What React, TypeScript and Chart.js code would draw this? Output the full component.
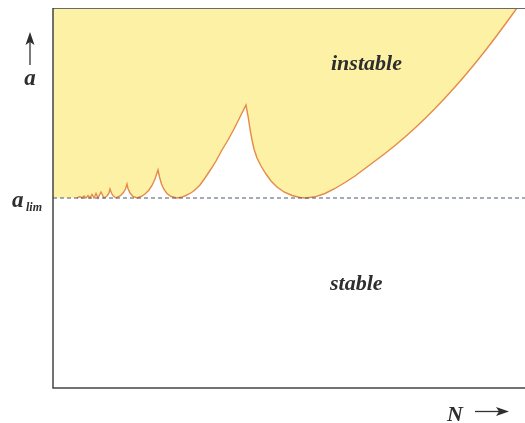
import React, { useEffect, useRef } from "react";
import { Chart, registerables } from "chart.js";

Chart.register(...registerables);

// Stability-lobe boundary (arbitrary units): N along x, depth of cut a along y
const N_VALUES = [
  0, 24, 27, 29, 31, 33, 35, 37, 39, 41, 43, 45, 48, 51, 54, 56, 57, 58.5, 60, 63, 67, 70, 72.5,
  74, 75, 77, 80, 84, 88, 92, 96, 99, 102, 105, 106.5, 108.5, 111, 114, 118, 124, 128, 132, 136,
  140, 144, 147, 152, 158, 163, 169, 175, 181, 187, 193, 195, 197, 199, 201, 204, 208, 213, 218,
  224, 231, 239, 247, 253, 262, 272, 282, 292, 302, 312, 322, 332, 342, 352, 362, 372, 382, 392,
  402, 412, 422, 432, 442, 452, 464,
];
const A_VALUES = [
  190, 190, 191.5, 190, 192, 190, 192.5, 190, 193.5, 190, 194.5, 190, 196, 190, 192, 195, 199, 195,
  192.5, 190, 192, 195, 199, 204, 199.5, 195, 191.5, 190, 191.5, 194, 198, 202.5, 209, 218, 211,
  204, 198.5, 194.5, 191.5, 190, 190.7, 192, 194, 196.5, 200, 203, 210, 219, 227, 238, 248, 259,
  271, 283, 272, 259, 248, 239, 230, 222, 214, 207, 201, 196, 192.5, 190.5, 190, 191.2, 194.5, 199.5,
  205.5, 212, 219.5, 227, 234.5, 242.5, 251, 260, 269.5, 279.5, 290, 301, 312.5, 324.5, 337, 350,
  363.5, 380,
];
const A_LIM = 190;
const N_MAX = 472;
const A_MAX = 380;

const LABEL_UNSTABLE = "instable";
const LABEL_STABLE = "stable";
const LABEL_A = "a";
const LABEL_ALIM_SUB = "lim";
const LABEL_N = "N";

const FILL = "#FDF1A6";
const CURVE = "#E58A45";
const TEXT = "#2e2e2e";
const SERIF = '"Liberation Serif", "Times New Roman", serif';

const decorPlugin = {
  id: "decor",
  afterDatasetsDraw(chart: any) {
    const { ctx, chartArea } = chart;
    const { left, top, right, bottom } = chartArea;
    ctx.save();
    // frame: top, left, bottom
    ctx.strokeStyle = "#6a6a6a";
    ctx.lineWidth = 1;
    ctx.beginPath();
    ctx.moveTo(left, top + 0.5);
    ctx.lineTo(right, top + 0.5);
    ctx.stroke();
    ctx.strokeStyle = "#444";
    ctx.lineWidth = 1.5;
    ctx.beginPath();
    ctx.moveTo(left, top);
    ctx.lineTo(left, bottom);
    ctx.lineTo(right, bottom);
    ctx.stroke();

    const ys = chart.scales.y;
    ctx.fillStyle = TEXT;
    ctx.textBaseline = "alphabetic";

    // region labels
    ctx.font = `italic bold 22px ${SERIF}`;
    ctx.textAlign = "left";
    ctx.fillText(LABEL_UNSTABLE, left + 278, top + 62);
    ctx.fillText(LABEL_STABLE, left + 277, top + 282);

    // a with up arrow
    ctx.textAlign = "center";
    ctx.font = `italic bold 23px ${SERIF}`;
    ctx.fillText(LABEL_A, 30, 85);
    ctx.strokeStyle = "#333";
    ctx.lineWidth = 1.3;
    ctx.beginPath();
    ctx.moveTo(30, 42);
    ctx.lineTo(30, 65);
    ctx.stroke();
    ctx.beginPath();
    ctx.moveTo(30, 32);
    ctx.lineTo(25.5, 45);
    ctx.lineTo(30, 42);
    ctx.lineTo(34.5, 45);
    ctx.closePath();
    ctx.fill();

    // a_lim
    const yLim = ys.getPixelForValue(A_LIM);
    ctx.textAlign = "left";
    ctx.font = `italic bold 23px ${SERIF}`;
    ctx.fillText(LABEL_A, 12, yLim + 9);
    ctx.font = `italic bold 12px ${SERIF}`;
    ctx.fillText(LABEL_ALIM_SUB, 26, yLim + 13);

    // N with right arrow
    ctx.font = `italic bold 22px ${SERIF}`;
    ctx.fillText(LABEL_N, 447, 421);
    ctx.beginPath();
    ctx.moveTo(475, 411.5);
    ctx.lineTo(500, 411.5);
    ctx.stroke();
    ctx.beginPath();
    ctx.moveTo(509, 411.5);
    ctx.lineTo(496, 407);
    ctx.lineTo(499, 411.5);
    ctx.lineTo(496, 416);
    ctx.closePath();
    ctx.fill();
    ctx.restore();
  },
};

export default function App() {
  const ref = useRef<HTMLCanvasElement | null>(null);
  useEffect(() => {
    if (!ref.current) return;
    const points = N_VALUES.map((n, i) => ({ x: n, y: A_VALUES[i] }));
    const chart = new Chart(ref.current, {
      type: "line",
      data: {
        datasets: [
          {
            label: "a_lim",
            data: [
              { x: 0, y: A_LIM },
              { x: N_MAX, y: A_LIM },
            ],
            borderColor: "#4a5872",
            borderWidth: 1,
            borderDash: [4, 3],
            pointRadius: 0,
            fill: false,
            order: 0,
          },
          {
            label: "boundary",
            data: points,
            borderColor: CURVE,
            borderWidth: 1.4,
            backgroundColor: FILL,
            pointRadius: 0,
            tension: 0,
            fill: "end",
            order: 1,
            segment: {
              borderColor: (c: any) => (c.p0DataIndex === 0 ? "rgba(0,0,0,0)" : CURVE),
            },
          },
        ],
      },
      options: {
        animation: false,
        responsive: false,
        maintainAspectRatio: false,
        layout: { padding: { left: 53, top: 8, right: 0, bottom: 35 } },
        plugins: { legend: { display: false }, tooltip: { enabled: false }, title: { display: false } },
        scales: {
          x: { type: "linear", min: 0, max: N_MAX, display: false },
          y: { type: "linear", min: 0, max: A_MAX, display: false },
        },
        events: [],
      },
      plugins: [decorPlugin],
    });
    return () => chart.destroy();
  }, []);
  return (
    <div style={{ position: "fixed", left: 0, top: 0, width: 525, height: 423, background: "#fff" }}>
      <canvas ref={ref} width={525} height={423} style={{ display: "block", width: 525, height: 423 }} />
    </div>
  );
}
